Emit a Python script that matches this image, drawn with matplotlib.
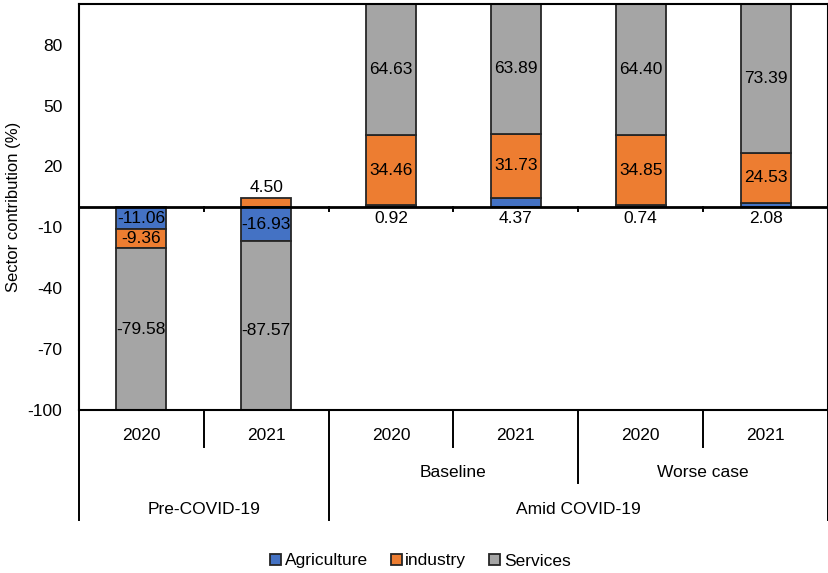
import numpy as np
import matplotlib.pyplot as plt

plt.rcParams['font.family'] = ['Liberation Sans', 'DejaVu Sans']
plt.rcParams['font.size'] = 12.5
plt.rcParams['axes.unicode_minus'] = False

# category hierarchy, left to right
years = ['2020', '2021', '2020', '2021', '2020', '2021']
scenarios = ['', '', 'Baseline', 'Baseline', 'Worse case', 'Worse case']
periods = ['Pre-COVID-19', 'Pre-COVID-19', 'Amid COVID-19', 'Amid COVID-19',
           'Amid COVID-19', 'Amid COVID-19']

agriculture = [-11.06, -16.93, 0.92, 4.37, 0.74, 2.08]
industry = [-9.36, 4.50, 34.46, 31.73, 34.85, 24.53]
services = [-79.58, -87.57, 64.63, 63.89, 64.40, 73.39]

series = [('Agriculture', agriculture, '#4472C4'),
          ('industry', industry, '#ED7D31'),
          ('Services', services, '#A5A5A5')]

yticks = [-100, -70, -40, -10, 20, 50, 80]

fig = plt.figure(figsize=(8.29, 5.73), dpi=100)
ax = fig.add_axes([79 / 829, 163 / 573, 749 / 829, 406 / 573])

x = np.arange(len(years)) + 0.5
pos_base = np.zeros(len(years))
neg_base = np.zeros(len(years))
for k, (name, vals, color) in enumerate(series):
    vals = np.array(vals)
    base = np.where(vals >= 0, pos_base, neg_base)
    ax.bar(x, vals, 0.4, bottom=base, color=color, edgecolor='#262626',
           linewidth=1.3, label=name, zorder=2)
    for xi, b, v in zip(x, base, vals):
        txt = f'{v:.2f}'
        if abs(v) < 6 and v > 0:
            if k == 0:
                # thin slices sitting on zero get their label under the axis
                ax.text(xi, -2.2, txt, ha='center', va='top', zorder=4)
            else:
                ax.text(xi, b + v + 1.2, txt, ha='center', va='bottom', zorder=4)
        else:
            ax.text(xi, b + v / 2, txt, ha='center', va='center', zorder=4)
    pos_base += np.where(vals >= 0, vals, 0)
    neg_base += np.where(vals < 0, vals, 0)

ax.set_xlim(0, len(years))
ax.set_ylim(-100, 100)
ax.set_yticks(yticks)
ax.tick_params(axis='y', length=0, pad=12)
ax.set_xticks([])
for s in ax.spines.values():
    s.set_linewidth(1.5)
ax.set_ylabel('Sector contribution (%)', fontsize=12)
ax.yaxis.set_label_coords(-58 / 749, 0.5)

# horizontal zero axis with tick marks between categories
ax.axhline(0, color='black', lw=2, zorder=3)
for b in range(1, len(years)):
    ax.plot([b, b], [0, -2], color='black', lw=1.4, zorder=3)

# multi-level category labels below the plot
tr = ax.get_xaxis_transform()
row = [0, -0.091, -0.180, -0.271]
lk = dict(color='black', lw=1.4, transform=tr, clip_on=False)

for i, yr in enumerate(years):
    ax.text(i + 0.5, -0.062, yr, ha='center', va='center', transform=tr)


def spans(labels):
    out, start = [], 0
    for i in range(1, len(labels) + 1):
        if i == len(labels) or labels[i] != labels[start]:
            out.append((start, i, labels[start]))
            start = i
    return out


period_spans = spans(periods)
scenario_spans = spans(scenarios)

for a, b, lab in scenario_spans:
    if lab:
        ax.text((a + b) / 2, -0.153, lab, ha='center', va='center', transform=tr)
for a, b, lab in period_spans:
    ax.text((a + b) / 2, -0.244, lab, ha='center', va='center', transform=tr)

edges = {}
for b in range(len(years) + 1):
    edges[b] = row[1]
for a, b, lab in scenario_spans:
    if lab:
        edges[a] = min(edges[a], row[2])
        edges[b] = min(edges[b], row[2])
for a, b, lab in period_spans:
    edges[a] = row[3]
    edges[b] = row[3]
for b, low in edges.items():
    ax.plot([b, b], [0, low], **lk)

fig.legend(loc='center', bbox_to_anchor=(0.507, 1 - 561 / 573), ncol=3,
           frameon=False, handlelength=0.65, handleheight=0.65,
           handletextpad=0.2, columnspacing=1.3, fontsize=12.5)

fig.savefig('out.png', dpi=100)
